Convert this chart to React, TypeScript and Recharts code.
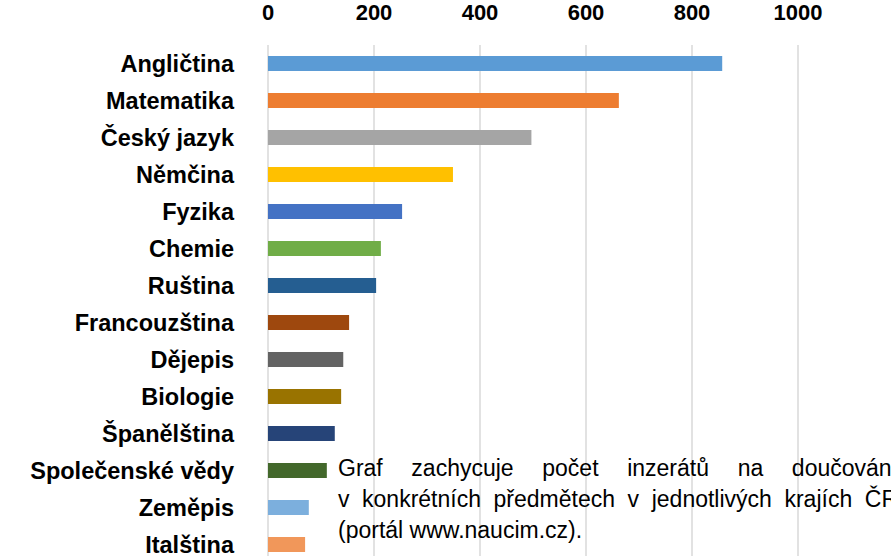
import React from 'react';
import { BarChart, Bar, XAxis, YAxis, CartesianGrid, Cell } from 'recharts';

const subjects = [
  'Angličtina',
  'Matematika',
  'Český jazyk',
  'Němčina',
  'Fyzika',
  'Chemie',
  'Ruština',
  'Francouzština',
  'Dějepis',
  'Biologie',
  'Španělština',
  'Společenské vědy',
  'Zeměpis',
  'Italština'
];

const counts = [857, 662, 497, 349, 253, 213, 204, 153, 142, 138, 126, 111, 77, 70];

const barColors = [
  '#5B9BD5',
  '#ED7D31',
  '#A5A5A5',
  '#FFC000',
  '#4472C4',
  '#70AD47',
  '#255E91',
  '#9E480E',
  '#636363',
  '#997300',
  '#264478',
  '#43682B',
  '#7CAFDD',
  '#F1975A'
];

const xTicks = [0, 200, 400, 600, 800, 1000];

// the note is justified, with a line break after "doučování"
const noteLines = [
  'Graf zachycuje počet inzerátů na doučování',
  'v konkrétních předmětech v jednotlivých krajích ČR',
  '(portál www.naucim.cz).'
];

const data = subjects.map((name, i) => ({ name, count: counts[i] }));

const font = '"Liberation Sans", Arial, sans-serif';

export default function App() {
  return (
    <div
      style={{
        position: 'absolute',
        left: 0,
        top: 0,
        width: 891,
        height: 556,
        overflow: 'hidden',
        background: '#fff',
        fontFamily: font
      }}
    >
      <BarChart
        width={891}
        height={570}
        data={data}
        layout="vertical"
        margin={{ top: 15, right: 93, bottom: 7, left: 0 }}
      >
        <CartesianGrid horizontal={false} stroke="#d9d9d9" strokeWidth={1.5} />
        <XAxis
          type="number"
          orientation="top"
          domain={[0, 1000]}
          ticks={xTicks}
          axisLine={false}
          tickLine={false}
          tickSize={0}
          tickMargin={25}
          height={30}
          tick={{ fill: '#000', fontSize: 22, fontWeight: 'bold', fontFamily: font }}
        />
        <YAxis
          type="category"
          dataKey="name"
          width={268}
          axisLine={false}
          tickLine={false}
          tickSize={0}
          tickMargin={34}
          interval={0}
          tick={{ fill: '#000', fontSize: 23.5, fontWeight: 'bold', fontFamily: font }}
        />
        <Bar dataKey="count" barSize={15} isAnimationActive={false}>
          {data.map((d, i) => (
            <Cell key={d.name} fill={barColors[i]} />
          ))}
        </Bar>
      </BarChart>
      <div
        style={{
          position: 'absolute',
          left: 338,
          top: 453,
          width: 560,
          fontSize: 23,
          lineHeight: '31px',
          color: '#000',
          fontFamily: font,
          whiteSpace: 'nowrap'
        }}
      >
        {noteLines.map((line, i) => (
          <div
            key={i}
            style={{
              textAlign: i < noteLines.length - 1 ? 'justify' : 'left',
              textAlignLast: i < noteLines.length - 1 ? 'justify' : 'left',
              whiteSpace: 'normal'
            }}
          >
            {line}
          </div>
        ))}
      </div>
    </div>
  );
}
